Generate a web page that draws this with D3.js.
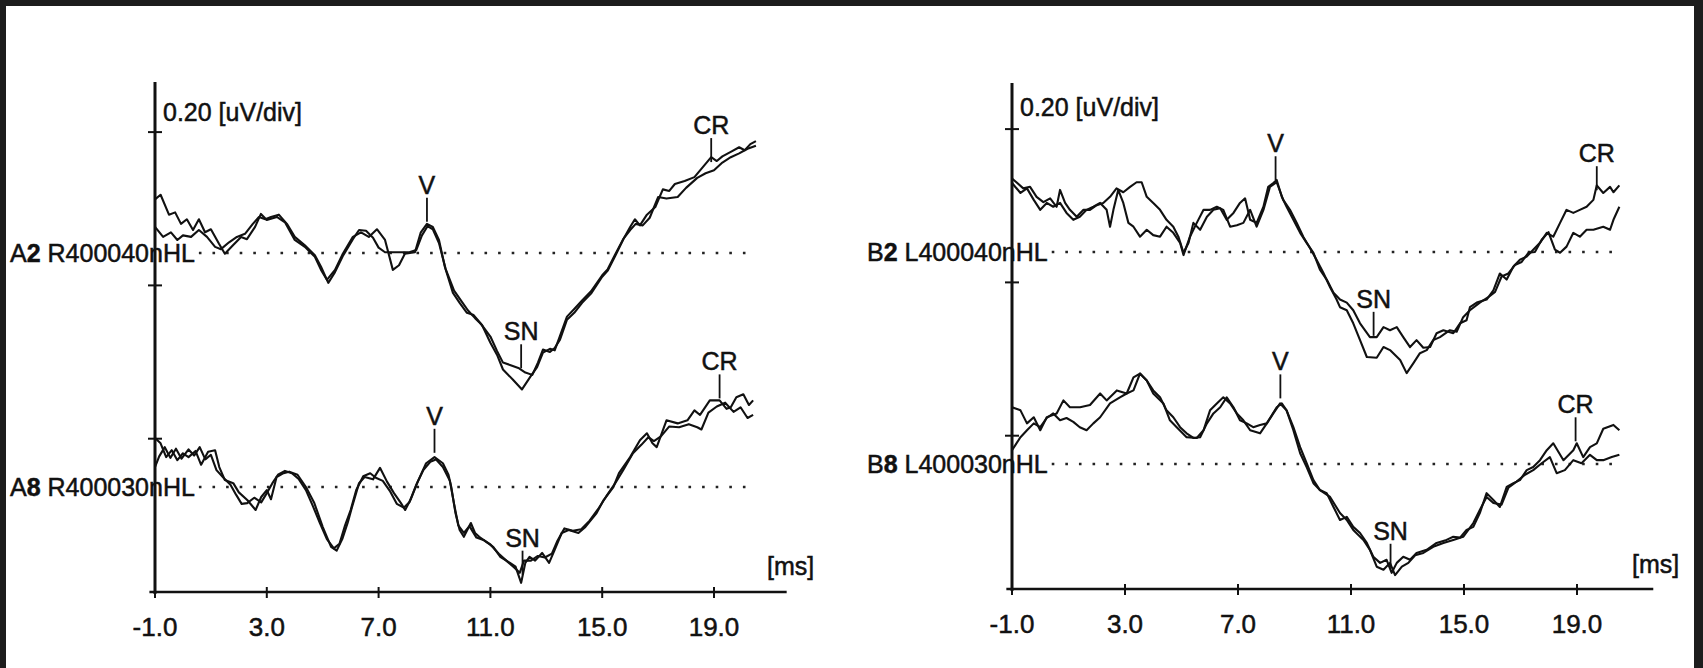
<!DOCTYPE html>
<html>
<head>
<meta charset="utf-8">
<style>
  body { margin: 0; background: #1d1d1d; }
  svg { display: block; }
  text { font-family: "Liberation Sans", Arial, sans-serif; fill: #111; stroke: #111; stroke-width: 0.5px; }
</style>
<script src="https://cdn.jsdelivr.net/npm/d3@7"></script>
</head>
<body>
<svg></svg>
<script>
// latency in ms, amplitude in uV (relative to each record's baseline)
var xTicks = [-1, 3, 7, 11, 15, 19];
var xTickLabels = ["-1.0", "3.0", "7.0", "11.0", "15.0", "19.0"];
var yDivs = [0.2, 0.4, 0.6];
var scaleLabel = "0.20 [uV/div]";
var unitLabel = "[ms]";

var a2Run1 = [[-1.0,.070],[-0.8,.076],[-0.5,.050],[-0.28,.053],[-0.07,.038],[0.14,.044],[0.36,.030],[0.57,.044],[0.79,.027],[1.0,.031],[1.29,.012],[1.5,-.001],[1.79,.010],[2.08,.021],[2.29,.018],[2.58,.034],[2.79,.051],[3.0,.043],[3.36,.047],[3.65,.040],[4.0,.017],[4.36,.008],[4.72,-.005],[4.94,-.022],[5.15,-.035],[5.44,-.022],[5.72,-.001],[6.08,.021],[6.37,.027],[6.65,.021],[6.94,.031],[7.23,.017],[7.51,-.022],[7.73,-.016],[7.94,-.001],[8.3,.001],[8.51,.027],[8.73,.038],[8.94,.034],[9.16,.017],[9.37,-.018],[9.66,-.052],[9.9,-.065],[10.16,-.078],[10.4,-.081],[10.63,-.091],[11.0,-.109],[11.24,-.128],[11.45,-.143],[11.7,-.146],[12.0,-.150],[12.25,-.156],[12.5,-.159],[12.7,-.143],[12.88,-.126],[13.13,-.129],[13.3,-.124],[13.49,-.113],[13.74,-.087],[14.0,-.078],[14.28,-.065],[14.6,-.053],[15.0,-.031],[15.2,-.023],[15.45,-.005],[15.8,.021],[16.0,.034],[16.17,.044],[16.35,.036],[16.6,.050],[16.9,.060],[17.17,.083],[17.4,.081],[17.6,.090],[17.95,.094],[18.3,.099],[18.6,.112],[18.9,.125],[19.1,.120],[19.3,.126],[19.6,.132],[19.9,.138],[20.1,.134],[20.3,.142],[20.5,.146]];
var a2Run2 = [[-1.0,.034],[-0.71,.021],[-0.43,.027],[-0.2,.017],[0.0,.023],[0.29,.021],[0.57,.030],[0.86,.021],[1.15,.008],[1.36,.005],[1.65,.014],[1.93,.021],[2.22,.025],[2.5,.038],[2.72,.047],[2.95,.044],[3.15,.047],[3.43,.050],[3.72,.038],[4.0,.021],[4.36,.010],[4.72,-.003],[4.94,-.018],[5.2,-.039],[5.44,-.025],[5.72,-.004],[6.08,.018],[6.3,.030],[6.55,.029],[6.8,.020],[7.0,.007],[7.23,.001],[7.5,.001],[7.8,.001],[8.1,.001],[8.35,.004],[8.55,.023],[8.75,.035],[8.94,.031],[9.16,.013],[9.4,-.021],[9.7,-.049],[9.95,-.062],[10.2,-.075],[10.45,-.085],[10.7,-.094],[11.0,-.117],[11.24,-.133],[11.45,-.152],[11.8,-.165],[12.13,-.178],[12.42,-.162],[12.67,-.149],[12.88,-.130],[13.13,-.125],[13.3,-.127],[13.49,-.108],[13.74,-.083],[14.0,-.073],[14.28,-.062],[14.6,-.050],[15.0,-.029],[15.2,-.021],[15.45,-.003],[15.75,.018],[16.0,.030],[16.2,.038],[16.45,.036],[16.7,.046],[17.0,.073],[17.3,.071],[17.7,.073],[18.0,.085],[18.4,.098],[18.7,.104],[19.0,.108],[19.3,.118],[19.6,.125],[19.9,.130],[20.2,.136],[20.5,.140]];
var a2Peaks = [["V", 8.73, .038], ["SN", 12.1, -.153], ["CR", 18.9, .116]];

var a8Run1 = [[-1.0,.064],[-0.8,.057],[-0.6,.039],[-0.4,.048],[-0.2,.035],[0.0,.044],[0.2,.039],[0.45,.047],[0.65,.029],[0.9,.046],[1.15,.048],[1.3,.026],[1.5,.009],[1.8,.005],[2.0,-.007],[2.3,-.017],[2.6,-.030],[2.8,-.013],[3.0,-.004],[3.15,-.016],[3.35,.013],[3.6,.018],[3.8,.020],[4.1,.016],[4.4,0],[4.7,-.021],[5.0,-.052],[5.3,-.078],[5.5,-.083],[5.7,-.068],[5.9,-.046],[6.05,-.026],[6.3,.005],[6.5,.013],[6.8,.010],[7.05,.025],[7.3,.007],[7.55,-.008],[7.8,-.021],[7.95,-.030],[8.15,-.016],[8.4,.007],[8.7,.031],[9.0,.039],[9.3,.031],[9.5,.016],[9.6,0],[9.75,-.034],[9.9,-.056],[10.05,-.065],[10.3,-.047],[10.45,-.060],[10.6,-.065],[10.9,-.073],[11.1,-.078],[11.35,-.091],[11.7,-.099],[11.9,-.104],[12.1,-.125],[12.25,-.099],[12.4,-.091],[12.6,-.096],[12.85,-.086],[13.1,-.099],[13.3,-.082],[13.55,-.060],[13.8,-.056],[14.15,-.060],[14.4,-.052],[14.8,-.034],[15.05,-.017],[15.4,0],[15.6,.018],[16.0,.039],[16.35,.061],[16.6,.070],[16.8,.057],[16.95,.052],[17.3,.087],[17.7,.083],[18.05,.087],[18.3,.100],[18.5,.094],[18.85,.113],[19.2,.113],[19.45,.102],[19.6,.104],[19.8,.117],[20.05,.121],[20.25,.107],[20.4,.113]];
var a8Run2 = [[-1.0,.026],[-0.85,.040],[-0.65,.052],[-0.45,.038],[-0.25,.050],[-0.05,.037],[0.2,.049],[0.4,.041],[0.6,.052],[0.8,.036],[1.0,.042],[1.2,.022],[1.45,.012],[1.7,.003],[1.9,-.010],[2.1,-.022],[2.3,-.021],[2.55,-.014],[2.8,-.020],[3.0,-.008],[3.2,.005],[3.4,.016],[3.65,.021],[3.9,.018],[4.15,.010],[4.4,-.004],[4.65,-.025],[4.9,-.047],[5.15,-.068],[5.4,-.080],[5.6,-.074],[5.8,-.050],[6.0,-.030],[6.2,-.004],[6.45,.014],[6.7,.018],[6.9,.012],[7.15,.008],[7.4,-.005],[7.65,-.022],[7.9,-.027],[8.1,-.020],[8.35,.003],[8.6,.022],[8.85,.033],[9.05,.036],[9.3,.026],[9.55,.008],[9.7,-.022],[9.85,-.050],[10.05,-.060],[10.25,-.051],[10.5,-.066],[10.75,-.069],[11.0,-.075],[11.3,-.087],[11.6,-.097],[11.85,-.105],[12.05,-.112],[12.2,-.096],[12.45,-.096],[12.7,-.090],[12.95,-.092],[13.2,-.087],[13.4,-.070],[13.65,-.054],[13.95,-.057],[14.25,-.055],[14.55,-.044],[14.85,-.029],[15.15,-.012],[15.45,.004],[15.75,.022],[16.1,.044],[16.4,.055],[16.65,.065],[16.85,.060],[17.1,.066],[17.4,.079],[17.75,.078],[18.1,.082],[18.4,.078],[18.55,.075],[18.8,.097],[19.1,.105],[19.4,.110],[19.7,.098],[19.95,.104],[20.2,.090],[20.4,.094]];
var a8Peaks = [["V", 9.0, .042], ["SN", 12.15, -.117], ["CR", 19.2, .113]];

var b2Run1 = [[-1.0,.096],[-0.6,.083],[-0.36,.085],[-0.13,.072],[0.11,.065],[0.35,.070],[0.58,.059],[0.7,.081],[0.88,.064],[1.05,.055],[1.29,.046],[1.53,.055],[1.76,.055],[2.0,.061],[2.23,.064],[2.47,.072],[2.7,.083],[2.94,.078],[3.18,.085],[3.41,.091],[3.59,.091],[3.77,.072],[4.0,.064],[4.24,.055],[4.47,.042],[4.71,.033],[4.89,.020],[5.07,-.001],[5.25,.012],[5.42,.038],[5.66,.029],[5.9,.046],[6.13,.055],[6.37,.057],[6.6,.042],[6.84,.051],[7.07,.064],[7.25,.070],[7.43,.042],[7.66,.038],[7.9,.059],[8.07,.085],[8.25,.090],[8.37,.094],[8.55,.072],[8.72,.059],[8.96,.042],[9.2,.025],[9.43,.012],[9.67,-.001],[9.9,-.023],[10.14,-.036],[10.38,-.053],[10.61,-.062],[10.85,-.066],[11.08,-.076],[11.32,-.093],[11.67,-.111],[11.91,-.111],[12.15,-.098],[12.38,-.102],[12.62,-.098],[12.85,-.111],[13.09,-.124],[13.32,-.115],[13.56,-.125],[13.8,-.124],[14.03,-.106],[14.27,-.102],[14.62,-.106],[14.86,-.093],[15.09,-.089],[15.21,-.072],[15.45,-.066],[15.8,-.062],[16.04,-.050],[16.27,-.028],[16.51,-.036],[16.75,-.019],[16.98,-.010],[17.22,-.006],[17.45,.003],[17.69,.012],[17.93,.025],[18.16,.020],[18.4,.038],[18.63,.055],[18.87,.051],[19.1,.055],[19.34,.059],[19.58,.068],[19.7,.087],[19.93,.077],[20.17,.085],[20.29,.078],[20.5,.087]];
var b2Run2 = [[-1.0,.090],[-0.7,.077],[-0.47,.083],[-0.23,.068],[0.0,.055],[0.23,.064],[0.46,.059],[0.7,.064],[0.93,.051],[1.17,.042],[1.4,.046],[1.64,.055],[1.88,.059],[2.12,.064],[2.35,.055],[2.47,.033],[2.59,.055],[2.76,.081],[2.94,.064],[3.12,.038],[3.3,.033],[3.53,.020],[3.77,.029],[4.0,.022],[4.24,.020],[4.47,.033],[4.71,.025],[4.95,.012],[5.07,-.004],[5.3,.020],[5.54,.038],[5.78,.055],[6.01,.055],[6.25,.059],[6.48,.055],[6.72,.033],[6.96,.035],[7.19,.038],[7.43,.055],[7.66,.033],[7.9,.055],[8.13,.085],[8.37,.091],[8.6,.068],[8.84,.055],[9.08,.038],[9.31,.020],[9.55,.005],[9.78,-.010],[10.02,-.027],[10.26,-.046],[10.49,-.062],[10.61,-.072],[10.85,-.076],[11.08,-.093],[11.32,-.115],[11.56,-.137],[11.91,-.138],[12.15,-.124],[12.38,-.128],[12.74,-.141],[12.97,-.158],[13.21,-.145],[13.44,-.132],[13.68,-.128],[13.91,-.115],[14.15,-.111],[14.5,-.102],[14.74,-.104],[14.97,-.085],[15.21,-.076],[15.56,-.066],[15.86,-.059],[16.1,-.052],[16.33,-.032],[16.57,-.028],[16.8,-.017],[17.04,-.013],[17.28,-.001],[17.51,0],[17.75,.016],[17.99,.026],[18.22,.003],[18.4,-.001],[18.63,.007],[18.87,.025],[19.1,.020],[19.34,.029],[19.58,.029],[19.93,.033],[20.17,.029],[20.29,.042],[20.5,.059]];
var b2Peaks = [["V", 8.33, .091], ["SN", 11.8, -.112], ["CR", 19.7, .078]];

var b8Run1 = [[-1.0,.074],[-0.7,.070],[-0.47,.053],[-0.23,.061],[0.0,.044],[0.23,.061],[0.58,.066],[0.82,.083],[1.05,.074],[1.41,.074],[1.76,.077],[2.12,.092],[2.35,.083],[2.71,.096],[3.06,.092],[3.3,.096],[3.53,.118],[3.77,.109],[4.0,.096],[4.24,.087],[4.47,.070],[4.71,.061],[4.95,.048],[5.18,.040],[5.42,.034],[5.66,.035],[5.9,.053],[6.13,.066],[6.37,.074],[6.6,.087],[6.84,.074],[7.07,.057],[7.31,.053],[7.54,.048],[7.78,.051],[8.02,.053],[8.25,.066],[8.49,.079],[8.72,.070],[8.96,.048],[9.2,.022],[9.43,.001],[9.67,-.021],[9.9,-.034],[10.14,-.038],[10.38,-.056],[10.61,-.073],[10.85,-.069],[11.08,-.082],[11.32,-.090],[11.56,-.103],[11.79,-.121],[12.03,-.129],[12.26,-.125],[12.44,-.142],[12.62,-.129],[12.85,-.121],[13.09,-.125],[13.32,-.116],[13.68,-.112],[14.03,-.103],[14.38,-.099],[14.62,-.095],[14.86,-.096],[15.09,-.086],[15.33,-.082],[15.56,-.064],[15.8,-.038],[16.04,-.047],[16.27,-.056],[16.51,-.030],[16.75,-.025],[16.98,-.021],[17.22,-.008],[17.45,-.004],[17.69,.005],[17.93,.018],[18.16,.027],[18.52,.005],[18.87,.018],[18.99,.027],[19.22,.009],[19.46,.022],[19.7,.027],[19.93,.046],[20.29,.051],[20.5,.044]];
var b8Run2 = [[-1.0,.018],[-0.7,.035],[-0.47,.044],[-0.23,.053],[0.0,.048],[0.23,.060],[0.46,.066],[0.7,.057],[0.93,.060],[1.17,.055],[1.4,.048],[1.64,.044],[1.88,.053],[2.12,.061],[2.47,.079],[2.82,.087],[3.06,.092],[3.3,.113],[3.53,.118],[3.77,.109],[4.0,.092],[4.36,.079],[4.59,.057],[4.83,.048],[5.18,.035],[5.54,.034],[5.78,.044],[6.01,.070],[6.25,.079],[6.48,.087],[6.72,.079],[6.96,.066],[7.19,.057],[7.43,.044],[7.78,.040],[8.02,.053],[8.37,.074],[8.55,.079],[8.72,.070],[8.96,.044],[9.2,.014],[9.43,-.004],[9.67,-.025],[9.9,-.034],[10.26,-.043],[10.61,-.064],[10.85,-.073],[11.08,-.086],[11.44,-.099],[11.67,-.112],[11.91,-.134],[12.15,-.138],[12.38,-.129],[12.56,-.145],[12.8,-.134],[13.03,-.129],[13.27,-.119],[13.56,-.116],[13.91,-.108],[14.27,-.103],[14.62,-.099],[14.97,-.095],[15.33,-.077],[15.56,-.060],[15.8,-.043],[16.04,-.051],[16.33,-.053],[16.57,-.031],[16.86,-.023],[17.16,-.014],[17.45,-.008],[17.75,.001],[18.04,.009],[18.28,-.012],[18.57,-.008],[18.87,.005],[19.16,.001],[19.46,.012],[19.7,.005],[19.93,.005],[20.23,.009],[20.5,.012]];
var b8Peaks = [["V", 8.5, .083], ["SN", 12.4, -.138], ["CR", 18.95, .027]];

var width = 1703, height = 668;
var divPx = 153.3;

var svg = d3.select("svg")
    .attr("width", width)
    .attr("height", height);

// scanned page with dark frame on top, left and right
svg.append("rect")
    .attr("width", width).attr("height", height)
    .attr("fill", "#1d1d1d");
svg.append("rect")
    .attr("x", 6).attr("y", 6)
    .attr("width", 1688).attr("height", height - 6)
    .attr("fill", "#fff");

var panels = [
  { x0: 155, x19: 714, axisY: 592, top: 82, axisEnd: 21.6, labelX: 10,
    scaleY: 121, unitX: 767, unitY: 575, tickY: 636,
    records: [
      { side: "A", num: "2", rest: " R400040nHL", base: 253, runs: [a2Run1, a2Run2], peaks: a2Peaks },
      { side: "A", num: "8", rest: " R400030nHL", base: 487, runs: [a8Run1, a8Run2], peaks: a8Peaks }
    ] },
  { x0: 1012, x19: 1577, axisY: 589, top: 83, axisEnd: 21.7, labelX: 867,
    scaleY: 116, unitX: 1632, unitY: 573, tickY: 633,
    records: [
      { side: "B", num: "2", rest: " L400040nHL", base: 252, runs: [b2Run1, b2Run2], peaks: b2Peaks },
      { side: "B", num: "8", rest: " L400030nHL", base: 464, runs: [b8Run1, b8Run2], peaks: b8Peaks }
    ] }
];

panels.forEach(function(p) {
  var x = d3.scaleLinear().domain([-1, 19]).range([p.x0, p.x19]);
  var yAxisScale = d3.scaleLinear().domain([0, 0.2]).range([p.axisY, p.axisY - divPx]);
  var g = svg.append("g");

  // y axis with division ticks
  g.append("line")
      .attr("x1", x(-1)).attr("x2", x(-1))
      .attr("y1", p.axisY + 2).attr("y2", p.top)
      .attr("stroke", "#111").attr("stroke-width", 3);
  g.selectAll(".ytick")
    .data(yDivs)
    .enter().append("line")
      .attr("x1", x(-1) - 7).attr("x2", x(-1) + 7)
      .attr("y1", function(d) { return yAxisScale(d); })
      .attr("y2", function(d) { return yAxisScale(d); })
      .attr("stroke", "#111").attr("stroke-width", 2);

  g.append("text")
      .attr("x", x(-1) + 8).attr("y", p.scaleY)
      .attr("font-size", "25px")
      .text(scaleLabel);

  // x axis
  g.append("line")
      .attr("x1", x(-1.2)).attr("x2", x(p.axisEnd))
      .attr("y1", p.axisY).attr("y2", p.axisY)
      .attr("stroke", "#111").attr("stroke-width", 2.5);
  g.selectAll(".xtick")
    .data(xTicks)
    .enter().append("line")
      .attr("x1", function(d) { return x(d); })
      .attr("x2", function(d) { return x(d); })
      .attr("y1", p.axisY - 5).attr("y2", p.axisY + 6)
      .attr("stroke", "#111").attr("stroke-width", 2);
  g.selectAll(".xlabel")
    .data(xTicks)
    .enter().append("text")
      .attr("x", function(d) { return x(d); })
      .attr("y", p.tickY)
      .attr("text-anchor", "middle")
      .attr("font-size", "26px")
      .text(function(d, i) { return xTickLabels[i]; });

  g.append("text")
      .attr("x", p.unitX).attr("y", p.unitY)
      .attr("font-size", "25px")
      .text(unitLabel);

  p.records.forEach(function(r) {
    var y = d3.scaleLinear().domain([-0.2, 0.2]).range([r.base + divPx, r.base - divPx]);

    var label = g.append("text")
        .attr("x", p.labelX).attr("y", r.base + 9)
        .attr("font-size", "25px");
    label.append("tspan").text(r.side);
    label.append("tspan").attr("font-weight", "bold").text(r.num);
    label.append("tspan").text(r.rest);
    var labelEnd = p.labelX + label.node().getComputedTextLength();

    g.append("line")
        .attr("x1", labelEnd + 4).attr("x2", x(20.5))
        .attr("y1", y(0)).attr("y2", y(0))
        .attr("stroke", "#222").attr("stroke-width", 2.6)
        .attr("stroke-dasharray", "2.6 11");

    var line = d3.line()
        .x(function(d) { return x(d[0]); })
        .y(function(d) { return y(d[1]); });

    g.selectAll(null)
      .data(r.runs)
      .enter().append("path")
        .attr("d", line)
        .attr("fill", "none")
        .attr("stroke", "#111")
        .attr("stroke-width", 2.1)
        .attr("stroke-linejoin", "round");

    var peak = g.selectAll(null)
      .data(r.peaks)
      .enter().append("g");
    peak.append("line")
        .attr("x1", function(d) { return x(d[1]); })
        .attr("x2", function(d) { return x(d[1]); })
        .attr("y1", function(d) { return y(d[2]) - 2; })
        .attr("y2", function(d) { return y(d[2]) - 26; })
        .attr("stroke", "#111").attr("stroke-width", 1.8);
    peak.append("text")
        .attr("x", function(d) { return x(d[1]); })
        .attr("y", function(d) { return y(d[2]) - 30; })
        .attr("text-anchor", "middle")
        .attr("font-size", "25px")
        .text(function(d) { return d[0]; });
  });
});
</script>
</body>
</html>
